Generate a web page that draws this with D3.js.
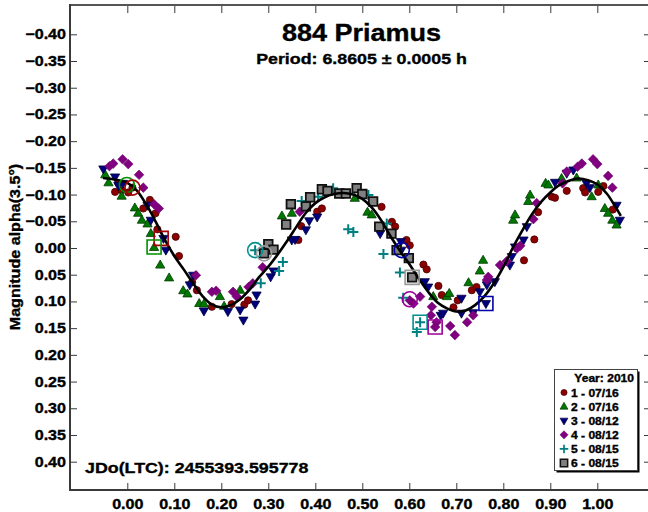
<!DOCTYPE html>
<html><head><meta charset="utf-8">
<script src="https://cdn.jsdelivr.net/npm/d3@7"></script>
<style>html,body{margin:0;padding:0;background:#fff;}svg{display:block;}</style>
</head><body>
<svg id="chart" width="648" height="512"></svg>
<script>
// ---------- DATA ----------
const titleText = "884 Priamus";
const subtitleText = "Period: 6.8605 \u00b1 0.0005 h";
const yLabelText = "Magnitude alpha(3.5\u00b0)";
const jdText = "JDo(LTC): 2455393.595778";
const legendTitle = "Year: 2010";
const seriesLabels = ["1 - 07/16", "2 - 07/16", "3 - 08/12", "4 - 08/12", "5 - 08/15", "6 - 08/15"];
const xTicks = [0.0, 0.1, 0.2, 0.3, 0.4, 0.5, 0.6, 0.7, 0.8, 0.9, 1.0];
const yTicks = [-0.40, -0.35, -0.30, -0.25, -0.20, -0.15, -0.10, -0.05, 0.00, 0.05, 0.10, 0.15, 0.20, 0.25, 0.30, 0.35, 0.40];

const series1 = [[-0.026,-0.105],[-0.019,-0.121],[-0.012,-0.108],[0.002,-0.104],[0.011,-0.113],[0.034,-0.074],[0.048,-0.090],[0.060,-0.065],[0.064,-0.035],[0.103,-0.021],[0.110,0.015],[0.138,0.064],[0.148,0.079],[0.180,0.110],[0.222,0.105],[0.249,0.106],[0.257,0.098],[0.364,-0.015],[0.370,-0.041],[0.404,-0.068],[0.414,-0.074],[0.541,-0.077],[0.563,-0.049],[0.570,-0.040],[0.594,-0.015],[0.601,-0.005],[0.630,0.031],[0.637,0.040],[0.662,0.071],[0.669,0.088],[0.694,0.111],[0.703,0.098],[0.733,0.079],[0.743,0.073],[0.844,0.023],[0.866,-0.016],[0.874,-0.067],[0.903,-0.096],[0.910,-0.094],[0.935,-0.107],[0.970,-0.112],[0.974,-0.104],[1.002,-0.105],[1.013,-0.116],[1.033,-0.072]];
const series2 = [[-0.047,-0.137],[-0.040,-0.122],[-0.012,-0.097],[0.016,-0.075],[0.023,-0.065],[0.031,-0.052],[0.043,-0.045],[0.050,-0.027],[0.057,-0.001],[0.070,0.032],[0.089,0.056],[0.119,0.080],[0.128,0.086],[0.153,0.104],[0.163,0.105],[0.197,0.091],[0.206,0.109],[0.240,0.079],[0.329,-0.060],[0.350,-0.065],[0.484,-0.093],[0.511,-0.067],[0.520,-0.062],[0.651,0.091],[0.680,0.091],[0.685,0.085],[0.726,0.065],[0.750,0.043],[0.757,0.023],[0.821,-0.052],[0.825,-0.062],[0.853,-0.087],[0.857,-0.099],[0.890,-0.121],[0.896,-0.118],[0.924,-0.130],[0.956,-0.131],[0.988,-0.096],[1.002,-0.118],[1.016,-0.074],[1.023,-0.065],[1.032,-0.052],[1.041,-0.043]];
const series3 = [[-0.051,-0.148],[-0.026,-0.133],[-0.019,-0.117],[-0.009,-0.121],[0.043,-0.080],[0.050,-0.052],[0.077,-0.018],[0.082,0.004],[0.133,0.069],[0.140,0.051],[0.163,0.118],[0.214,0.119],[0.240,0.116],[0.247,0.135],[0.275,0.088],[0.272,0.105],[0.305,0.054],[0.311,0.043],[0.350,-0.015],[0.357,-0.016],[0.380,-0.034],[0.387,-0.051],[0.404,-0.058],[0.538,-0.027],[0.582,-0.012],[0.583,0.004],[0.633,0.063],[0.640,0.073],[0.667,0.126],[0.672,0.122],[0.711,0.094],[0.711,0.122],[0.736,0.121],[0.750,0.082],[0.763,0.104],[0.765,0.069],[0.782,0.063],[0.814,0.032],[0.818,0.016],[0.825,-0.002],[0.843,-0.015],[0.850,-0.040],[0.910,-0.123],[0.935,-0.140],[0.949,-0.146],[0.977,-0.121],[0.984,-0.113],[1.041,-0.080],[1.048,-0.052]];
const series4 = [[-0.038,-0.153],[-0.030,-0.158],[-0.010,-0.166],[0.002,-0.157],[0.025,-0.137],[0.034,-0.113],[0.057,-0.082],[0.067,-0.074],[0.146,0.051],[0.180,0.082],[0.189,0.080],[0.225,0.082],[0.233,0.091],[0.258,0.073],[0.267,0.066],[0.288,0.036],[0.367,-0.068],[0.601,0.098],[0.609,0.104],[0.623,0.091],[0.646,0.126],[0.648,0.110],[0.655,0.148],[0.658,0.139],[0.687,0.146],[0.697,0.163],[0.723,0.139],[0.736,0.126],[0.765,0.060],[0.768,0.054],[0.793,0.032],[0.807,0.025],[0.829,0.001],[0.836,-0.004],[0.864,-0.054],[0.871,-0.084],[0.926,-0.121],[0.935,-0.143],[0.958,-0.152],[0.967,-0.158],[0.991,-0.166],[1.000,-0.157],[1.023,-0.135],[1.032,-0.113]];
const series5 = [[0.272,0.004],[0.284,0.066],[0.323,0.043],[0.331,0.026],[0.371,-0.088],[0.406,-0.096],[0.438,-0.112],[0.470,-0.035],[0.481,-0.030],[0.513,-0.099],[0.545,0.011],[0.552,-0.046],[0.580,0.046],[0.587,0.093],[0.623,0.139],[0.616,0.157]];
const series6 = [[0.300,-0.007],[0.311,0.003],[0.291,0.010],[0.338,-0.044],[0.348,-0.082],[0.380,-0.078],[0.389,-0.095],[0.414,-0.110],[0.426,-0.107],[0.451,-0.102],[0.465,-0.102],[0.488,-0.112],[0.500,-0.101],[0.523,-0.087],[0.536,-0.040],[0.562,-0.027],[0.573,0.004],[0.599,0.019],[0.606,0.055]];

// session start/end markers: [series index, shape, phase, mag]
const sessionMarks = [[2,"circle",-0.001,-0.118],[1,"circle",0.011,-0.113],[1,"square",0.072,-0.018],[2,"square",0.057,-0.002],[5,"circle",0.272,0.004],[6,"circle",0.291,0.010],[3,"circle",0.584,0.004],[6,"square",0.606,0.055],[4,"circle",0.601,0.096],[5,"square",0.623,0.139],[4,"square",0.655,0.148],[3,"square",0.763,0.104]];

// fitted Fourier curve
const curvePhase = [-0.052,-0.025,0.00,0.02,0.04,0.06,0.08,0.10,0.12,0.14,0.16,0.18,0.20,0.22,0.24,0.26,0.28,0.30,0.32,0.34,0.36,0.38,0.40,0.42,0.44,0.46,0.48,0.50,0.52,0.54,0.56,0.58,0.60,0.62,0.64,0.66,0.68,0.70,0.72,0.74,0.76,0.78,0.80,0.82,0.84,0.86,0.88,0.90,0.92,0.94,0.96,0.98,1.00,1.02,1.04,1.05];
const curveMag = [-0.131,-0.128,-0.122,-0.108,-0.082,-0.050,-0.015,0.015,0.040,0.066,0.090,0.106,0.111,0.107,0.096,0.078,0.055,0.035,0.012,-0.013,-0.040,-0.066,-0.084,-0.095,-0.101,-0.103,-0.100,-0.092,-0.076,-0.052,-0.022,0.005,0.030,0.057,0.082,0.102,0.113,0.119,0.117,0.107,0.090,0.066,0.036,0.000,-0.032,-0.062,-0.086,-0.104,-0.118,-0.126,-0.130,-0.127,-0.119,-0.102,-0.075,-0.060];

// ---------- LAYOUT ----------
const svg = d3.select("#chart");
const L = 70, T = 5, R = 650, B = 490;
const x = d3.scaleLinear().domain([0, 1]).range([127.3, 597.3]);
const y = d3.scaleLinear().domain([-0.4, 0.4]).range([34.3, 461.7]);
const SX = 1.15;
const FONT = "'Liberation Sans', Arial, Helvetica, sans-serif";
const axisColor = "#3a3a3a";

const colors = ["#8b0000", "#007800", "#00007f", "#800080", "#008080", "#808080"];
const strokes = ["#4a0000", "#003a00", "#000040", "#800080", "#008080", "#000000"];
const markColors = ["#a00000", "#009000", "#0000a8", "#9a009a", "#009090", "#9a9a9a"];

function styleText(sel, size) {
  return sel.style("font-family", FONT).style("font-weight", "bold")
    .style("font-size", size + "px").attr("fill", "#000")
    .attr("stroke", "#000").attr("stroke-width", 0.35);
}
function stretchText(parent, tx, ty, str, size, anchor, extra) {
  return styleText(parent.append("text")
    .attr("transform", `translate(${tx},${ty}) ${extra || ""} scale(${SX},1)`)
    .attr("text-anchor", anchor), size)
    .text(str);
}

// axes
const gx = svg.append("g").attr("transform", `translate(0,${B})`)
  .call(d3.axisBottom(x).tickValues(xTicks).tickSize(-7).tickPadding(9).tickFormat(d3.format(".2f")));
const gxt = svg.append("g").attr("transform", `translate(0,${T})`)
  .call(d3.axisTop(x).tickValues(xTicks).tickSize(-8).tickFormat(""));
const gy = svg.append("g").attr("transform", `translate(${L},0)`)
  .call(d3.axisLeft(y).tickValues(yTicks).tickSize(-7).tickPadding(4/SX).tickFormat(d3.format(".2f")));
const gyr = svg.append("g").attr("transform", `translate(${R},0)`)
  .call(d3.axisRight(y).tickValues(yTicks).tickSize(-6).tickFormat(""));
[gx, gxt, gy, gyr].forEach(g => {
  g.select(".domain").remove();
  g.selectAll(".tick line").attr("stroke", axisColor).attr("stroke-width", 1);
});
styleText(gx.selectAll(".tick text").attr("transform", `scale(${SX},1)`), 14);
styleText(gy.selectAll(".tick text").attr("transform", `scale(${SX},1)`), 14);

// frame
svg.append("line").attr("x1", L).attr("x2", R).attr("y1", T).attr("y2", T).attr("stroke", "#555").attr("stroke-width", 2);
svg.append("line").attr("x1", L).attr("x2", L).attr("y1", T - 1).attr("y2", B + 1).attr("stroke", axisColor).attr("stroke-width", 2);
svg.append("line").attr("x1", L - 1).attr("x2", R).attr("y1", B).attr("y2", B).attr("stroke", axisColor).attr("stroke-width", 2);

// marker shapes
const shapePath = {
  circle: "M3.6,0A3.6,3.6,0,1,1,-3.6,0A3.6,3.6,0,1,1,3.6,0Z",
  up: "M0,-5L4.6,3L-4.6,3Z",
  down: "M0,5L4.6,-3L-4.6,-3Z",
  diamond: "M0,-4.8L4.8,0L0,4.8L-4.8,0Z",
  plus: "M-5,0H5M0,-5V5",
  square: "M-4.3,-4.3H4.3V4.3H-4.3Z"
};
const seriesShapes = ["circle", "up", "down", "diamond", "plus", "square"];
const allSeries = [series1, series2, series3, series4, series5, series6];

function drawMarker(g, i) {
  const s = seriesShapes[i];
  const p = g.append("path").attr("d", shapePath[s]);
  if (s === "plus") p.attr("fill", "none").attr("stroke", colors[i]).attr("stroke-width", 2);
  else if (s === "square") p.attr("fill", colors[i]).attr("stroke", "#111").attr("stroke-width", 1.8);
  else if (s === "diamond") p.attr("fill", colors[i]).attr("stroke", "#6a006a").attr("stroke-width", 0.6);
  else p.attr("fill", colors[i]).attr("stroke", strokes[i]).attr("stroke-width", 0.8);
}

const plot = svg.append("g");
allSeries.forEach((data, i) => {
  plot.append("g").selectAll("g").data(data).join("g")
    .attr("transform", d => `translate(${x(d[0])},${y(d[1])})`)
    .each(function () { drawMarker(d3.select(this), i); });
});

// fitted curve
const curveData = curvePhase.map((p, i) => [p, curveMag[i]]);
plot.append("path").datum(curveData)
  .attr("fill", "none").attr("stroke", "#000").attr("stroke-width", 2.6)
  .attr("d", d3.line().x(d => x(d[0])).y(d => y(d[1])).curve(d3.curveCatmullRom));

// session markers
plot.append("g").selectAll("path").data(sessionMarks).join("path")
  .attr("transform", d => `translate(${x(d[2])},${y(d[3])})`)
  .attr("d", d => d[1] === "circle" ? "M7.5,0A7.5,7.5,0,1,1,-7.5,0A7.5,7.5,0,1,1,7.5,0Z" : "M-7,-7H7V7H-7Z")
  .attr("fill", "none").attr("stroke", d => markColors[d[0] - 1]).attr("stroke-width", 1.6);

// titles
stretchText(svg, 361.5, 41, titleText, 23.5, "middle");
stretchText(svg, 361.5, 64, subtitleText, 15.5, "middle");
stretchText(svg, 20, 247, yLabelText, 14, "middle", "rotate(-90)");
stretchText(svg, 85, 473, jdText, 15.5, "start");

// legend
const lg = svg.append("g");
lg.append("rect").attr("x", 556.5).attr("y", 371.5).attr("width", 83).attr("height", 101).attr("fill", "#000");
lg.append("rect").attr("x", 554.5).attr("y", 369.5).attr("width", 83).attr("height", 101).attr("fill", "#fff").attr("stroke", "#444").attr("stroke-width", 1);
stretchText(lg, 634, 381.5, legendTitle, 10.5, "end");
seriesLabels.forEach((lab, i) => {
  const cy = 392.5 + i * 14.1;
  const mg = lg.append("g").attr("transform", `translate(564,${cy}) scale(0.85)`);
  drawMarker(mg, i);
  stretchText(lg, 571, cy + 4, lab, 10.5, "start");
});
</script>
</body></html>
